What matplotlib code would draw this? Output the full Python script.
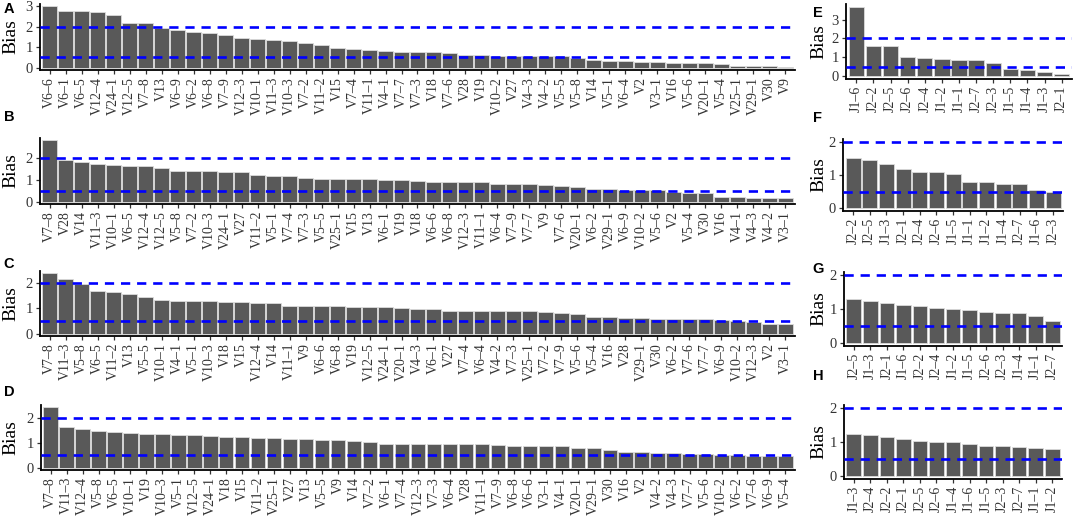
import matplotlib
matplotlib.use("Agg")
import matplotlib.pyplot as plt
import numpy as np

D = "\u2013"

def lab(s):
    return [x.replace("-", D) for x in s]

# ---------------- data ----------------
A_labels = lab(["V6-6", "V6-1", "V6-5", "V12-4", "V24-1", "V12-5", "V7-8", "V13", "V6-9", "V6-2",
                "V6-8", "V7-9", "V12-3", "V10-1", "V11-3", "V10-3", "V7-2", "V11-2", "V15", "V7-4",
                "V11-1", "V4-1", "V7-7", "V7-3", "V18", "V7-6", "V28", "V19", "V10-2", "V27",
                "V4-3", "V4-2", "V5-5", "V5-8", "V14", "V5-1", "V6-4", "V2", "V3-1", "V16",
                "V5-6", "V20-1", "V5-4", "V25-1", "V29-1", "V30", "V9"])
A_values = [3.00, 2.80, 2.80, 2.75, 2.59, 2.21, 2.18, 1.95, 1.85, 1.74,
            1.72, 1.59, 1.43, 1.38, 1.36, 1.30, 1.20, 1.10, 0.95, 0.92,
            0.84, 0.79, 0.75, 0.74, 0.74, 0.70, 0.62, 0.61, 0.57, 0.57,
            0.56, 0.56, 0.56, 0.46, 0.36, 0.34, 0.30, 0.28, 0.26, 0.23,
            0.23, 0.20, 0.18, 0.08, 0.08, 0.07, 0.05]

B_labels = lab(["V7-8", "V28", "V14", "V11-3", "V10-1", "V6-5", "V12-4", "V12-5", "V5-8", "V7-2",
                "V10-3", "V24-1", "V27", "V11-2", "V5-1", "V7-4", "V7-3", "V5-5", "V25-1", "V15",
                "V13", "V6-1", "V19", "V18", "V6-6", "V6-8", "V12-3", "V11-1", "V6-4", "V7-9",
                "V7-7", "V9", "V7-6", "V20-1", "V6-2", "V29-1", "V6-9", "V10-2", "V5-6", "V2",
                "V5-4", "V30", "V16", "V4-1", "V4-3", "V4-2", "V3-1"])
B_values = [2.81, 1.92, 1.81, 1.73, 1.70, 1.64, 1.63, 1.52, 1.42, 1.42,
            1.41, 1.36, 1.34, 1.23, 1.17, 1.17, 1.08, 1.06, 1.05, 1.03,
            1.02, 1.00, 1.00, 0.95, 0.91, 0.91, 0.88, 0.88, 0.81, 0.81,
            0.80, 0.77, 0.73, 0.66, 0.58, 0.58, 0.52, 0.52, 0.52, 0.44,
            0.38, 0.38, 0.23, 0.23, 0.17, 0.16, 0.16]

C_labels = lab(["V7-8", "V11-3", "V5-8", "V6-5", "V11-2", "V13", "V5-5", "V10-1", "V4-1", "V5-1",
                "V10-3", "V18", "V15", "V12-4", "V14", "V11-1", "V9", "V6-6", "V6-8", "V19",
                "V12-5", "V24-1", "V20-1", "V4-3", "V6-1", "V27", "V7-4", "V6-4", "V4-2", "V7-3",
                "V25-1", "V7-2", "V7-9", "V5-6", "V5-4", "V16", "V28", "V29-1", "V30", "V6-2",
                "V7-6", "V7-7", "V6-9", "V10-2", "V12-3", "V2", "V3-1"])
C_values = [2.36, 2.15, 1.96, 1.68, 1.64, 1.57, 1.43, 1.32, 1.28, 1.26,
            1.26, 1.24, 1.23, 1.21, 1.20, 1.10, 1.10, 1.10, 1.07, 1.06,
            1.06, 1.03, 1.01, 0.98, 0.98, 0.90, 0.90, 0.89, 0.88, 0.88,
            0.88, 0.86, 0.81, 0.76, 0.66, 0.65, 0.61, 0.61, 0.59, 0.58,
            0.58, 0.57, 0.54, 0.49, 0.45, 0.37, 0.36]

D_labels = lab(["V7-8", "V11-3", "V12-4", "V5-8", "V6-5", "V10-1", "V19", "V10-3", "V5-1", "V12-5",
                "V24-1", "V18", "V15", "V11-2", "V25-1", "V27", "V13", "V5-5", "V9", "V14",
                "V7-2", "V6-1", "V7-4", "V12-3", "V7-3", "V6-4", "V28", "V11-1", "V7-9", "V6-8",
                "V6-6", "V3-1", "V4-1", "V20-1", "V29-1", "V30", "V16", "V2", "V4-2", "V4-3",
                "V7-7", "V5-6", "V10-2", "V6-2", "V7-6", "V6-9", "V5-4"])
D_values = [2.44, 1.63, 1.56, 1.49, 1.45, 1.40, 1.36, 1.35, 1.33, 1.31,
            1.28, 1.25, 1.23, 1.20, 1.19, 1.17, 1.16, 1.13, 1.13, 1.09,
            1.03, 0.97, 0.97, 0.97, 0.97, 0.96, 0.96, 0.95, 0.91, 0.89,
            0.88, 0.87, 0.87, 0.80, 0.80, 0.73, 0.65, 0.63, 0.61, 0.61,
            0.57, 0.57, 0.53, 0.52, 0.49, 0.49, 0.47]

E_labels = lab(["J1-6", "J2-2", "J2-5", "J2-6", "J2-4", "J1-2", "J1-1", "J2-7", "J2-3", "J1-5",
                "J1-4", "J1-3", "J2-1"])
E_values = [3.68, 1.61, 1.58, 1.03, 0.97, 0.92, 0.88, 0.88, 0.71, 0.37, 0.35, 0.23, 0.12]

F_labels = lab(["J2-2", "J2-5", "J1-3", "J2-1", "J2-4", "J2-6", "J1-5", "J1-1", "J1-2", "J1-4",
                "J2-7", "J1-6", "J2-3"])
F_values = [1.51, 1.46, 1.32, 1.17, 1.08, 1.08, 1.02, 0.79, 0.78, 0.72, 0.72, 0.56, 0.50]

G_labels = lab(["J2-5", "J1-3", "J2-1", "J1-6", "J2-2", "J2-4", "J1-2", "J1-5", "J2-6", "J2-3",
                "J1-4", "J1-1", "J2-7"])
G_values = [1.28, 1.22, 1.18, 1.12, 1.09, 1.02, 0.99, 0.96, 0.91, 0.89, 0.87, 0.79, 0.65]

H_labels = lab(["J1-3", "J2-4", "J2-2", "J2-1", "J2-5", "J2-6", "J1-4", "J1-6", "J1-5", "J2-3",
                "J2-7", "J1-1", "J1-2"])
H_values = [1.24, 1.20, 1.16, 1.10, 1.02, 1.00, 0.99, 0.94, 0.88, 0.87, 0.85, 0.82, 0.79]

thresholds = [0.5, 2.0]

# ---------------- figure ----------------
W, H = 1074, 517
fig = plt.figure(figsize=(W / 100, H / 100), dpi=100)
fig.patch.set_facecolor("white")

SERIF = ["Liberation Serif", "DejaVu Serif"]
SANS = ["Liberation Sans", "DejaVu Sans"]


def add_ax(l, r, t, b):
    return fig.add_axes([l / W, 1 - b / H, (r - l) / W, (b - t) / H])


panels = [
    ("A", A_labels, A_values, (40, 795, 4, 70), (9, 9), [0, 1, 2, 3]),
    ("B", B_labels, B_values, (40, 795, 138, 204), (9, 117), [0, 1, 2]),
    ("C", C_labels, C_values, (40, 795, 271, 336), (9, 264), [0, 1, 2]),
    ("D", D_labels, D_values, (41, 795, 405, 470), (9, 392), [0, 1, 2]),
    ("E", E_labels, E_values, (846, 1072, 4, 79), (818, 13), [0, 1, 2, 3]),
    ("F", F_labels, F_values, (843, 1063, 139, 211), (818, 118), [0, 1, 2]),
    ("G", G_labels, G_values, (844, 1062, 272, 346), (818, 269), [0, 1, 2]),
    ("H", H_labels, H_values, (844, 1062, 405, 479), (818, 376), [0, 1, 2]),
]

for letter, labels, values, box, lpos, yticks in panels:
    l, r, t, b = box
    ax = add_ax(l, r, t, b)
    n = len(labels)
    x = np.arange(n)
    ax.bar(x, values, width=0.9, color="#595959", edgecolor="#dcdcdc",
           linewidth=0.6, zorder=2)
    for th in thresholds:
        ax.axhline(th, color="#0000ff", linewidth=1.9, dashes=(3.5, 2.6), zorder=3)
    M = max(max(values), 2.0)
    ax.set_ylim(-0.04 * M, 1.04 * M)
    ax.set_xlim(-0.6, n - 0.4)
    ax.set_xticks(x)
    ax.set_xticklabels(labels, rotation=90, ha="center", va="top",
                       fontfamily=SERIF, fontsize=10, color="#333333")
    ax.set_yticks(yticks)
    ax.set_yticklabels([str(v) for v in yticks], fontfamily=SERIF,
                       fontsize=10.5, color="#333333")
    for s in ["top", "right"]:
        ax.spines[s].set_visible(False)
    for s in ["left", "bottom"]:
        ax.spines[s].set_linewidth(1.3)
        ax.spines[s].set_color("black")
    ax.tick_params(axis="both", direction="out", length=3, width=0.9,
                   color="#333333", pad=2)
    ax.set_facecolor("white")
    ax.set_ylabel("Bias", fontfamily=SERIF, fontsize=14)
    wpx = r - l
    label_x = (19 - l) / wpx if l < 100 else (827 - l) / wpx
    ax.yaxis.set_label_coords(label_x, 0.5)
    fig.text(lpos[0] / W, 1 - lpos[1] / H, letter, fontfamily=SANS,
             fontweight="bold", fontsize=10.5, ha="center", va="center")

fig.savefig("out.png", dpi=100, facecolor="white")
